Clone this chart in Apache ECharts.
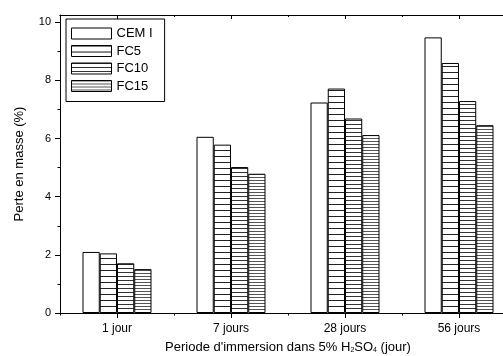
<!DOCTYPE html>
<html>
<head>
<meta charset="utf-8">
<script src="https://cdn.jsdelivr.net/npm/echarts@6/dist/echarts.min.js"></script>
<style>
	html, body { margin: 0; padding: 0; background: #fff; }
	#chart { width: 503px; height: 356px; }
</style>
</head>
<body>
<div id="chart"></div>
<script>
	// données
	var categories = ['1 jour', '7 jours', '28 jours', '56 jours'];
	var seriesNames = ['CEM I', 'FC5', 'FC10', 'FC15'];
	var cemI = [2.10, 6.06, 7.24, 9.48];
	var fc5 = [2.05, 5.79, 7.72, 8.60];
	var fc10 = [1.71, 5.02, 6.69, 7.29];
	var fc15 = [1.51, 4.79, 6.12, 6.46];
	var yTicks = [0, 2, 4, 6, 8, 10];
	var yMinorTicks = [1, 3, 5, 7, 9];

	//hachures horizontales
	function hatch(pitch, shade) {
		var c = document.createElement('canvas');
		c.width = 8;
		c.height = pitch;
		var g = c.getContext('2d');
		g.fillStyle = '#fff';
		g.fillRect(0, 0, 8, pitch);
		g.fillStyle = shade;
		g.fillRect(0, 0, 8, 1);
		return { image: c, repeat: 'repeat' };
	}

	var fills = ['#fff', hatch(6, '#222'), hatch(4, '#333'), hatch(3, '#555')];
	var values = [cemI, fc5, fc10, fc15];
	var font = 'Liberation Sans, Arial, sans-serif';

	var series = seriesNames.map(function (name, i) {
		return {
			name: name,
			type: 'bar',
			data: values[i],
			barGap: '0%',
			barCategoryGap: '39.5%',
			itemStyle: { color: fills[i], borderColor: '#000', borderWidth: 1 },
			emphasis: { disabled: true }
		};
	});

	function xAxis(pos, align, len, inside, show) {
		return {
			type: 'category',
			data: categories,
			position: pos,
			axisLine: { show: true, lineStyle: { color: '#000', width: 1 } },
			axisTick: { show: true, alignWithLabel: align, length: len, inside: inside, lineStyle: { color: '#000' } },
			axisLabel: { show: show, color: '#000', fontSize: 12, fontFamily: font, margin: 10 },
			splitLine: { show: false }
		};
	}

	var chart = echarts.init(document.getElementById('chart'));
	var axes = [xAxis('bottom', true, 5, false, true), xAxis('bottom', false, 2.5, false, false),
		xAxis('top', true, 4, true, false), xAxis('top', false, 2, true, false)];
	axes[0].name = "Periode d'immersion dans 5% H{s|2}SO{s|4} (jour)";
	axes[0].nameLocation = 'middle';
	axes[0].nameGap = 28;
	axes[0].nameTextStyle = {
		color: '#000', fontSize: 13, fontFamily: font,
		rich: { s: { fontSize: 7, fontFamily: font, color: '#000', padding: [6, 0, 0, 0] } }
	};

	chart.setOption({
		animation: false,
		backgroundColor: '#fff',
		grid: { left: 60, right: -13, top: 15, bottom: 43, containLabel: false, outerBoundsMode: 'none' },
		legend: {
			orient: 'vertical',
			left: 66,
			top: 19,
			data: seriesNames,
			icon: 'rect',
			itemWidth: 40,
			itemHeight: 11,
			itemGap: 4.5,
			itemTextGap: 5,
			padding: [8, 12, 9, 5],
			borderColor: '#000',
			borderWidth: 1,
			selectedMode: false,
			itemStyle: { borderColor: '#000', borderWidth: 1 },
			textStyle: { color: '#000', fontSize: 13, fontFamily: font }
		},
		xAxis: axes,
		yAxis: [{
			type: 'value',
			min: 0,
			max: 10.25,
			name: 'Perte en masse (%)',
			nameLocation: 'middle',
			nameGap: 34,
			nameTextStyle: { color: '#000', fontSize: 13, fontFamily: font },
			axisLine: { show: true, lineStyle: { color: '#000' } },
			axisTick: { show: true, length: 5, customValues: yTicks, lineStyle: { color: '#000' } },
			axisLabel: { color: '#000', fontSize: 11, fontFamily: font, margin: 9, customValues: yTicks },
			splitLine: { show: false }
		}, {
			type: 'value',
			min: 0,
			max: 10.25,
			position: 'left',
			axisLine: { show: false },
			axisTick: { show: true, length: 2.5, customValues: yMinorTicks, lineStyle: { color: '#000' } },
			axisLabel: { show: false },
			splitLine: { show: false }
		}],
		series: series
	});
</script>
</body>
</html>
